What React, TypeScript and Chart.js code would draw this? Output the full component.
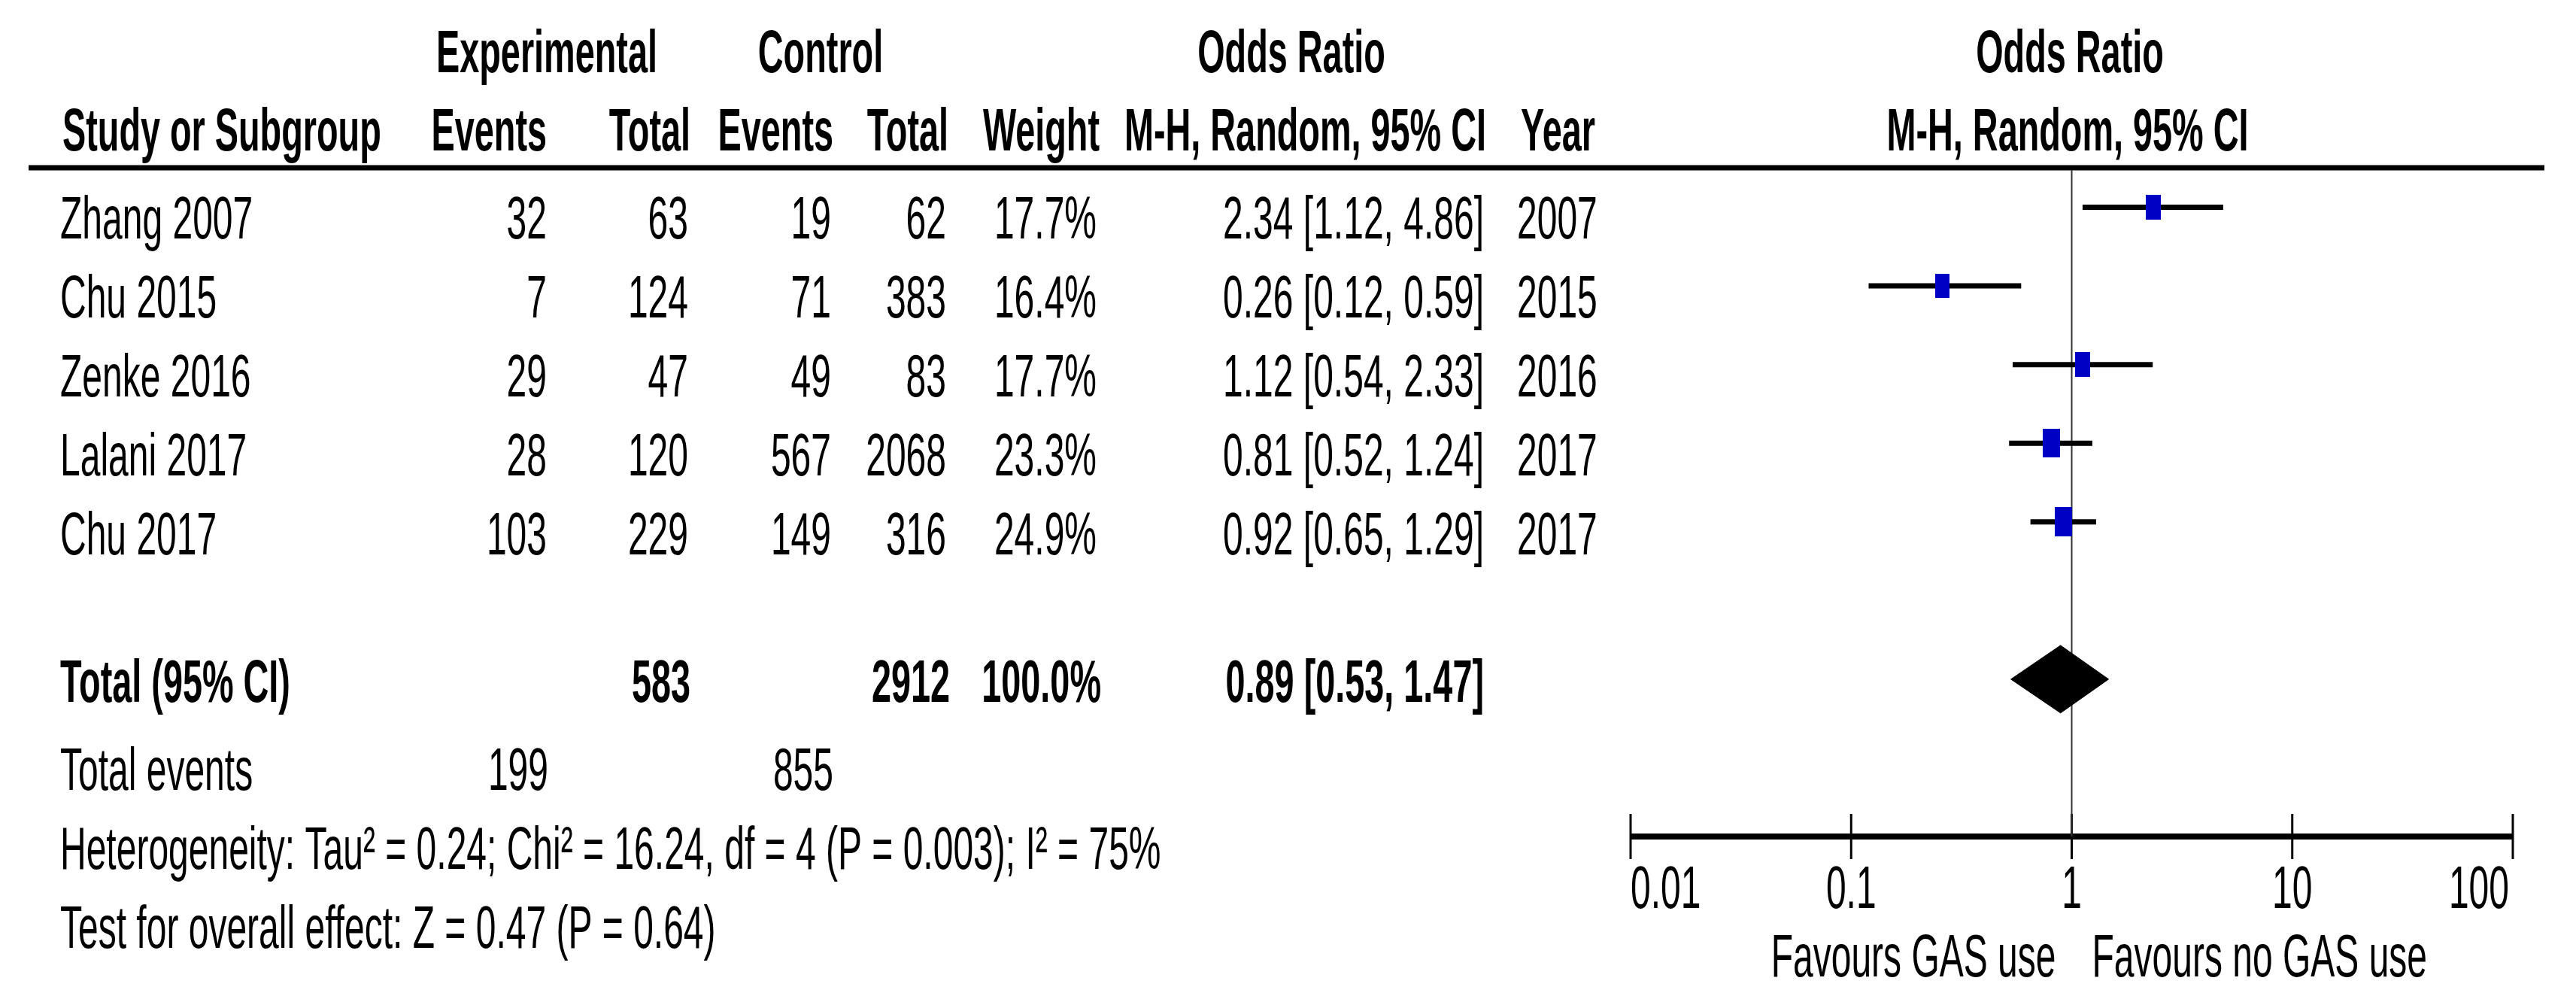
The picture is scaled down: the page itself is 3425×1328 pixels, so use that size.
import React, { useEffect, useRef } from 'react';
import { Chart, registerables } from 'chart.js';

Chart.register(...registerables);

// ---------- data ----------
const studies = ['Zhang 2007', 'Chu 2015', 'Zenke 2016', 'Lalani 2017', 'Chu 2017'];
const expEvents = [32, 7, 29, 28, 103];
const expTotal = [63, 124, 47, 120, 229];
const ctrlEvents = [19, 71, 49, 567, 149];
const ctrlTotal = [62, 383, 83, 2068, 316];
const weights = [17.7, 16.4, 17.7, 23.3, 24.9];
const oddsRatio = [2.34, 0.26, 1.12, 0.81, 0.92];
const ciLow = [1.12, 0.12, 0.54, 0.52, 0.65];
const ciHigh = [4.86, 0.59, 2.33, 1.24, 1.29];
const years = [2007, 2015, 2016, 2017, 2017];

const pooled = { or: 0.89, lo: 0.53, hi: 1.47 };
const totalExp = 583;
const totalCtrl = 2912;
const totalWeight = '100.0%';
const eventsExp = 199;
const eventsCtrl = 855;
const heterogeneityText = 'Heterogeneity: Tau\u00B2 = 0.24; Chi\u00B2 = 16.24, df = 4 (P = 0.003); I\u00B2 = 75%';
const overallText = 'Test for overall effect: Z = 0.47 (P = 0.64)';

const tickValues = [0.01, 0.1, 1, 10, 100];
const tickLabels = ['0.01', '0.1', '1', '10', '100'];
const favoursLeft = 'Favours GAS use';
const favoursRight = 'Favours no GAS use';

// ---------- layout / style ----------
const W = 3425;
const H = 1328;
const FONT = '"Liberation Sans", Arial, sans-serif';
const FS = 80;
const SX_N = 0.6;
const SX_B = 0.585;
const ROW_DIAMOND = 6;
const ROW_AXIS = 8;
const BLUE = '#0000c4';

function rectStyle(weight: number): HTMLCanvasElement {
  const h = Math.round(7.85 * Math.sqrt(weight));
  const w = Math.round(h * 0.6);
  const c = document.createElement('canvas');
  c.width = w;
  c.height = h;
  const g = c.getContext('2d')!;
  g.fillStyle = BLUE;
  g.fillRect(0, 0, w, h);
  return c;
}

const fmt2 = (v: number) => v.toFixed(2);
const ciText = (o: number, l: number, h: number) => `${fmt2(o)} [${fmt2(l)}, ${fmt2(h)}]`;

type T = [string, number, number, CanvasTextAlign, boolean];

const textPlugin = {
  id: 'forestText',
  afterDraw(chart: any) {
    const ctx: CanvasRenderingContext2D = chart.ctx;
    const xs = chart.scales.x;
    const items: T[] = [];
    // header row 1
    items.push(['Experimental', 727, 96, 'center', true]);
    items.push(['Control', 1091, 96, 'center', true]);
    items.push(['Odds Ratio', 1717, 96, 'center', true]);
    items.push(['Odds Ratio', 2752, 96, 'center', true]);
    // header row 2
    const hb = 200;
    items.push(['Study or Subgroup', 83, hb, 'left', true]);
    items.push(['Events', 727, hb, 'right', true]);
    items.push(['Total', 918, hb, 'right', true]);
    items.push(['Events', 1108, hb, 'right', true]);
    items.push(['Total', 1261, hb, 'right', true]);
    items.push(['Weight', 1462, hb, 'right', true]);
    items.push(['M-H, Random, 95% CI', 1976, hb, 'right', true]);
    items.push(['Year', 2022, hb, 'left', true]);
    items.push(['M-H, Random, 95% CI', 2749, hb, 'center', true]);
    // study rows
    studies.forEach((s, i) => {
      const b = 317 + 105 * i;
      items.push([s, 80, b, 'left', false]);
      items.push([String(expEvents[i]), 727, b, 'right', false]);
      items.push([String(expTotal[i]), 915, b, 'right', false]);
      items.push([String(ctrlEvents[i]), 1105, b, 'right', false]);
      items.push([String(ctrlTotal[i]), 1258, b, 'right', false]);
      items.push([weights[i].toFixed(1) + '%', 1458, b, 'right', false]);
      items.push([ciText(oddsRatio[i], ciLow[i], ciHigh[i]), 1973, b, 'right', false]);
      items.push([String(years[i]), 2017, b, 'left', false]);
    });
    // total row
    items.push(['Total (95% CI)', 80, 933, 'left', true]);
    items.push([String(totalExp), 918, 933, 'right', true]);
    items.push([String(totalCtrl), 1263, 933, 'right', true]);
    items.push([totalWeight, 1464, 933, 'right', true]);
    items.push([ciText(pooled.or, pooled.lo, pooled.hi), 1973, 933, 'right', true]);
    // totals events
    items.push(['Total events', 80, 1050, 'left', false]);
    items.push([String(eventsExp), 729, 1050, 'right', false]);
    items.push([String(eventsCtrl), 1108, 1050, 'right', false]);
    items.push([heterogeneityText, 80, 1155, 'left', false]);
    items.push([overallText, 80, 1260, 'left', false]);
    // axis tick labels
    tickValues.forEach((v, i) => {
      const px = xs.getPixelForValue(v);
      const al: CanvasTextAlign = i === 0 ? 'left' : i === tickValues.length - 1 ? 'right' : 'center';
      items.push([tickLabels[i], al === 'right' ? px - 5 : px, 1207, al, false]);
    });
    const one = xs.getPixelForValue(1);
    items.push([favoursLeft, one - 21, 1298, 'right', false]);
    items.push([favoursRight, one + 27, 1298, 'left', false]);

    ctx.save();
    ctx.fillStyle = '#000';
    ctx.textBaseline = 'alphabetic';
    for (const [txt, x, y, al, bold] of items) {
      ctx.save();
      ctx.translate(x, y);
      ctx.scale(bold ? SX_B : SX_N, 1);
      ctx.font = `${bold ? 'bold ' : ''}${FS}px ${FONT}`;
      ctx.textAlign = al;
      ctx.fillText(txt, 0, 0);
      ctx.restore();
    }
    ctx.restore();
  },
  beforeDatasetsDraw(chart: any) {
    const ctx: CanvasRenderingContext2D = chart.ctx;
    ctx.save();
    ctx.fillStyle = '#000';
    ctx.fillRect(38, 219.5, 3383 - 38, 7);
    ctx.restore();
  },
};

export default function App() {
  const ref = useRef<HTMLCanvasElement | null>(null);

  useEffect(() => {
    document.body.style.margin = '0';
    const canvas = ref.current;
    if (!canvas) return;

    const ciSets = studies.map((s, i) => ({
      type: 'line' as const,
      label: s + ' CI',
      data: [
        { x: ciLow[i], y: i },
        { x: ciHigh[i], y: i },
      ],
      borderColor: '#000',
      borderWidth: 7,
      pointRadius: 0,
      clip: false as any,
      order: 1,
    }));

    const chart = new Chart(canvas, {
      type: 'scatter',
      data: {
        datasets: [
          {
            label: 'Studies',
            data: oddsRatio.map((o, i) => ({ x: o, y: i })),
            pointStyle: weights.map((w) => rectStyle(w)) as any,
            pointRadius: 10,
            clip: false as any,
            order: 0,
          },
          ...ciSets,
          {
            type: 'line',
            label: 'Pooled',
            data: [
              { x: pooled.lo, y: ROW_DIAMOND },
              { x: pooled.or, y: ROW_DIAMOND - 0.43 },
              { x: pooled.hi, y: ROW_DIAMOND },
              { x: pooled.or, y: ROW_DIAMOND + 0.43 },
              { x: pooled.lo, y: ROW_DIAMOND },
            ],
            borderColor: '#000',
            backgroundColor: '#000',
            borderWidth: 1,
            fill: 'shape' as any,
            pointRadius: 0,
            clip: false as any,
            order: 2,
          },
          {
            type: 'line',
            label: 'No effect',
            data: [
              { x: 1, y: -0.47 },
              { x: 1, y: ROW_AXIS },
            ],
            borderColor: '#333',
            borderWidth: 2,
            pointRadius: 0,
            clip: false as any,
            order: 3,
          },
          {
            type: 'line',
            label: 'Axis',
            data: [
              { x: tickValues[0], y: ROW_AXIS },
              { x: tickValues[tickValues.length - 1], y: ROW_AXIS },
            ],
            borderColor: '#000',
            borderWidth: 8,
            pointRadius: 0,
            clip: false as any,
            order: 4,
          },
          {
            label: 'Ticks',
            data: tickValues.map((v) => ({ x: v, y: ROW_AXIS })),
            pointStyle: 'line',
            rotation: 90,
            pointRadius: 30,
            borderColor: '#000',
            borderWidth: 3,
            clip: false as any,
            order: 4,
          },
        ],
      },
      options: {
        animation: false,
        responsive: true,
        maintainAspectRatio: false,
        devicePixelRatio: 1,
        events: [],
        layout: { padding: { left: 2168, right: W - 3341, top: 275.5, bottom: H - 1112 } },
        plugins: { legend: { display: false }, tooltip: { enabled: false } },
        scales: {
          x: { type: 'logarithmic', min: 0.01, max: 100, display: false },
          y: { type: 'linear', min: 0, max: ROW_AXIS, reverse: true, display: false },
        },
      },
      plugins: [textPlugin],
    });

    return () => chart.destroy();
  }, []);

  return (
    <div style={{ width: W, height: H, position: 'relative', background: '#fff' }}>
      <canvas ref={ref} />
    </div>
  );
}
